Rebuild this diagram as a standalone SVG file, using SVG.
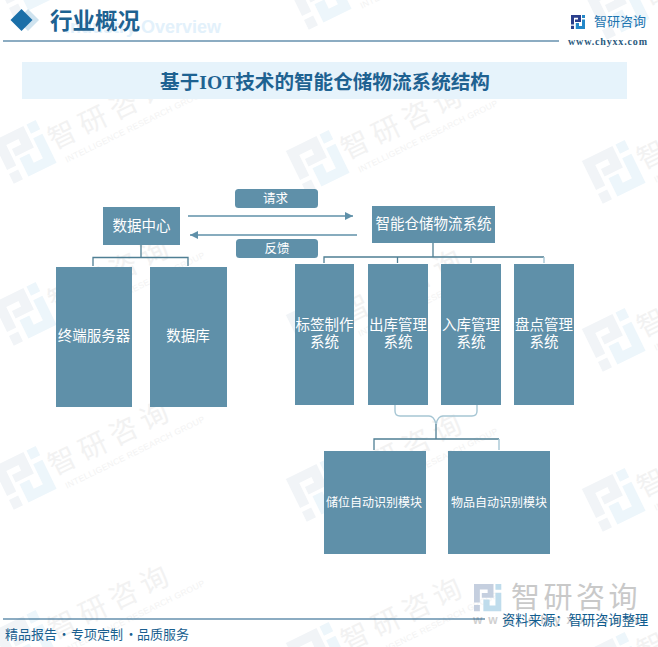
<svg xmlns="http://www.w3.org/2000/svg" xmlns:xlink="http://www.w3.org/1999/xlink" width="658" height="647" viewBox="0 0 658 647">
<style>
text{font-family:"Noto Sans CJK SC","Noto Sans",sans-serif}
.n{fill:#5f90a9}
.t{fill:#fff;font-size:14.5px;text-anchor:middle}
.s{font-size:12px}
.l{font-size:12.5px}
.c{fill:none;stroke:#4f7f94;stroke-width:1.3}
.md{fill:none;stroke:#7fa5b6;stroke-width:1.3}
.lt{fill:none;stroke:#a6c6d4;stroke-width:1.4}
.a{fill:none;stroke:#5f90a9;stroke-width:1.3}
.wt{fill:#f2f2f2;font-size:28px;letter-spacing:6px}
.ws{fill:#f3f3f3;font-size:8.6px;font-family:"Liberation Sans",sans-serif;letter-spacing:.3px}
.ser{font-family:"Liberation Serif","Noto Sans CJK SC",serif;font-weight:700}
</style>
<defs>
<path id="la" d="M0 0H10V7H4V4.600H7V2.800H3V9.500H0ZM0 10.800H3V14H0Z"/>
<path id="lb" d="M11 0H14V3H11ZM11 4.500H14V14H4.800V8H8V11H11Z"/>
<g id="wm">
<g transform="translate(-24 -24) scale(3.4)"><use xlink:href="#la" fill="#f1f4f7"/><use xlink:href="#lb" fill="#edf6fb"/></g>
<text class="wt" x="27" y="11">智研咨询</text>
<text class="ws" x="33" y="28">INTELLIGENCE RESEARCH GROUP</text>
</g>
<marker id="ah" markerUnits="userSpaceOnUse" markerWidth="9" markerHeight="8" refX="8" refY="4" orient="auto-start-reverse"><path d="M0 0L8 4L0 8Z" fill="#5f90a9"/></marker>
</defs>

<g id="watermarks">
<use xlink:href="#wm" transform="translate(25 -14) rotate(-26)"/>
<use xlink:href="#wm" transform="translate(320 -2) rotate(-26)"/>
<use xlink:href="#wm" transform="translate(618 8) rotate(-26)"/>
<use xlink:href="#wm" transform="translate(25 152) rotate(-26)"/>
<use xlink:href="#wm" transform="translate(318 162) rotate(-26)"/>
<use xlink:href="#wm" transform="translate(614 172) rotate(-26)"/>
<use xlink:href="#wm" transform="translate(25 314) rotate(-26)"/>
<use xlink:href="#wm" transform="translate(318 326) rotate(-26)"/>
<use xlink:href="#wm" transform="translate(614 340) rotate(-26)"/>
<use xlink:href="#wm" transform="translate(25 478) rotate(-26)"/>
<use xlink:href="#wm" transform="translate(318 490) rotate(-26)"/>
<use xlink:href="#wm" transform="translate(614 500) rotate(-26)"/>
<use xlink:href="#wm" transform="translate(25 642) rotate(-26)"/>
<use xlink:href="#wm" transform="translate(318 654) rotate(-26)"/>
<use xlink:href="#wm" transform="translate(614 664) rotate(-26)"/>
</g>

<g id="header">
<path d="M28 9L39 20L28 31L17 20Z" fill="#cfe3ef"/>
<path d="M21.500 9L32.500 20L21.500 31L10.500 20Z" fill="#1a6fa8"/>
<text x="65" y="33" font-size="18" style="font-family:'Liberation Sans',sans-serif;font-weight:700" fill="#e3f1fb">Industry Overview</text>
<text class="ser" x="50" y="29" font-size="22.500" fill="#1e6291">行业概况</text>
<path d="M3 41H559" stroke="#1a5a85" stroke-width="1.200"/>
<g transform="translate(571 15)"><use xlink:href="#la" fill="#2b3f8c"/><use xlink:href="#lb" fill="#2387c8"/></g>
<text x="594" y="26" font-size="13" fill="#1c74b0">智研咨询</text>
<text class="ser" x="568" y="44.500" font-size="10" fill="#2b5a7e" textLength="79" lengthAdjust="spacing">www.chyxx.com</text>
</g>

<g id="title">
<rect x="22" y="62" width="605" height="37" fill="#e6f3fb"/>
<text class="ser" x="325" y="89" font-size="19.600" fill="#1e6291" text-anchor="middle">基于IOT技术的智能仓储物流系统结构</text>
</g>

<g id="connectors">
<path class="a" d="M188 216H353" marker-end="url(#ah)"/>
<path class="a" d="M357 235H190" marker-end="url(#ah)"/>
<path class="c" d="M93 266V257.500H188V266"/>
<path class="c" d="M141 245V257.500" stroke-width="2"/>
<path class="c" d="M433 243V257"/>
<path class="c" d="M324 263V257H544"/>
<path class="c" d="M397.500 257V263"/>
<path class="md" d="M471 257V263"/>
<path class="lt" d="M544 257V263"/>
<path class="lt" d="M395 405V411Q395 416 400 416H429Q434 416 436 424Q438 416 443 416H472Q477 416 477 411V405"/>
<path class="c" d="M436 424V439M374 450V439H499"/>
<path class="lt" d="M499 439V450"/>
</g>

<g id="n-data-center"><rect class="n" x="103" y="207" width="77" height="38"/><text class="t" x="141.500" y="231">数据中心</text></g>
<g id="n-wms"><rect class="n" x="372" y="206" width="123" height="37"/><text class="t" x="433.500" y="229">智能仓储物流系统</text></g>
<g id="l-request"><rect class="n" x="235" y="189" width="83" height="19" rx="3.500"/><text class="t l" x="275.500" y="203">请求</text></g>
<g id="l-feedback"><rect class="n" x="236" y="239" width="82" height="19" rx="3.500"/><text class="t l" x="277" y="253">反馈</text></g>
<g id="n-terminal"><rect class="n" x="56" y="267" width="76" height="140"/><text class="t" x="94" y="341">终端服务器</text></g>
<g id="n-database"><rect class="n" x="150" y="267" width="77" height="140"/><text class="t" x="188" y="341">数据库</text></g>
<g id="n-label"><rect class="n" x="295" y="264" width="59" height="141"/><text class="t" x="324.500" y="330">标签制作</text><text class="t" x="324.500" y="347">系统</text></g>
<g id="n-out"><rect class="n" x="368" y="264" width="60" height="141"/><text class="t" x="398" y="330">出库管理</text><text class="t" x="398" y="347">系统</text></g>
<g id="n-in"><rect class="n" x="441" y="264" width="60" height="141"/><text class="t" x="471" y="330">入库管理</text><text class="t" x="471" y="347">系统</text></g>
<g id="n-stock"><rect class="n" x="514" y="264" width="60" height="141"/><text class="t" x="544" y="330">盘点管理</text><text class="t" x="544" y="347">系统</text></g>
<g id="n-location"><rect class="n" x="324" y="451" width="102" height="103"/><text class="t s" x="374" y="507">储位自动识别模块</text></g>
<g id="n-goods"><rect class="n" x="448" y="451" width="102" height="103"/><text class="t s" x="499" y="507">物品自动识别模块</text></g>

<g id="footer">
<g transform="translate(474 584) scale(1.950)"><use xlink:href="#la" fill="#c5cfdf"/><use xlink:href="#lb" fill="#bfdcec"/></g>
<text x="511" y="608" font-size="29" letter-spacing="3.500" fill="#c9c9c9">智研咨询</text>
<text x="473" y="624" font-size="12" letter-spacing="6" style="font-family:'Liberation Sans',sans-serif;font-weight:700" fill="#d0d0d0">www.chyxx.com</text>
<path d="M3 619H485" stroke="#1a5a85" stroke-width="1.200"/>
<text x="502" y="625" font-size="13.300" fill="#0f5c8e">资料来源：智研咨询整理</text>
<text y="639" font-size="13" fill="#1a5f8f"><tspan x="5">精品报告</tspan><tspan x="57.500">·</tspan><tspan x="71">专项定制</tspan><tspan x="124.500">·</tspan><tspan x="137">品质服务</tspan></text>
</g>
</svg>
